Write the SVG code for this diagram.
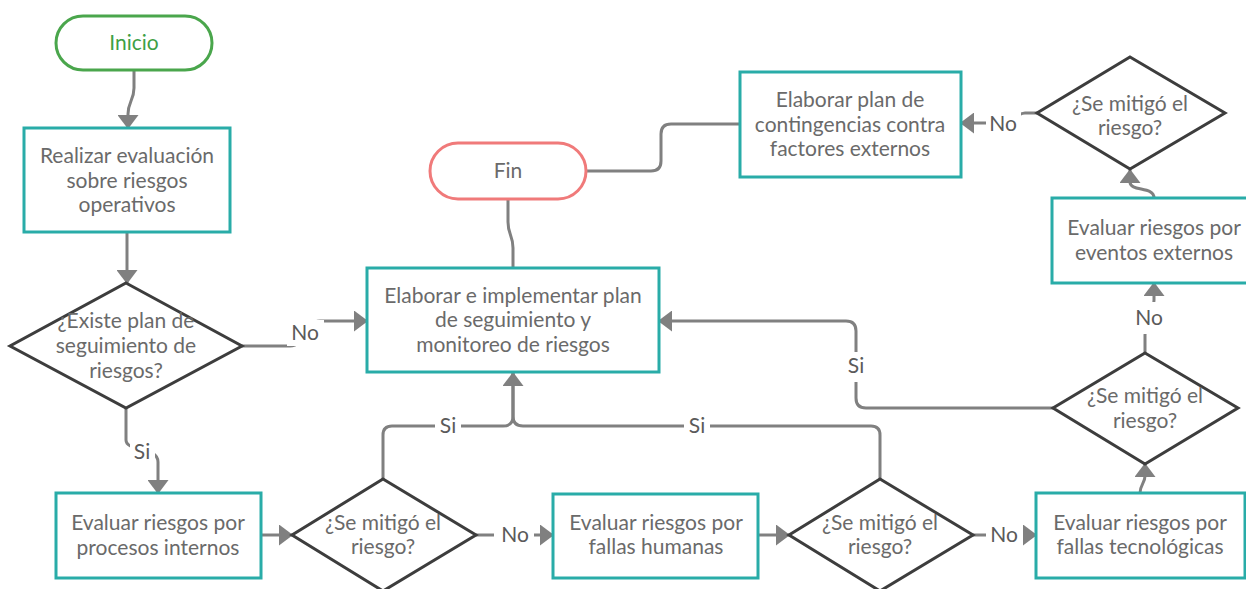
<svg xmlns="http://www.w3.org/2000/svg" width="1246" height="589" viewBox="0 0 1246 589">
<style>
  .box { fill: #ffffff; stroke: #29aca8; stroke-width: 3; }
  .dia { fill: #ffffff; stroke: #3d3d3d; stroke-width: 3; stroke-linejoin: miter; }
  .start { fill: #ffffff; stroke: #4aa64c; stroke-width: 3; }
  .end { fill: #ffffff; stroke: #f07a7a; stroke-width: 3; }
  .t { font-family: Lato, "Liberation Sans", sans-serif; font-size: 21px; fill: #6a6a6a; text-anchor: middle; }
  .tg { fill: #3e9f45; }
  .conn path { fill: none; stroke: #808080; stroke-width: 3; }
  .lbl { font-family: Lato, "Liberation Sans", sans-serif; font-size: 21px; fill: #5a5a5a; text-anchor: middle; }
  .lblbg { fill: #ffffff; }
</style>
<defs>
  <marker id="arr" viewBox="0 0 14 21" refX="13" refY="10.5" markerWidth="14" markerHeight="21" markerUnits="userSpaceOnUse" orient="auto">
    <path d="M0,0 L14,10.5 L0,21 z" fill="#808080"/>
  </marker>
</defs>
<rect width="1246" height="589" fill="#ffffff"/>

<g id="connectors" class="conn">
  <path d="M134,70 V88 C134,100 128,102 128,114 V128" marker-end="url(#arr)"/>
  <path d="M127,232 V283" marker-end="url(#arr)"/>
  <path d="M242,346 H290 C305,346 305,321 320,321 H367" marker-end="url(#arr)"/>
  <path d="M126,408 V440 C126,452 158,446 158,462 V493" marker-end="url(#arr)"/>
  <path d="M261,535 H292" marker-end="url(#arr)"/>
  <path d="M383,479 V435 Q383,426 392,426 H503 Q513,426 513,416 V373" marker-end="url(#arr)"/>
  <path d="M880,479 V435 Q880,426 871,426 H523 Q513,426 513,416 V373"/>
  <path d="M476,535 H553" marker-end="url(#arr)"/>
  <path d="M758,535 H789" marker-end="url(#arr)"/>
  <path d="M973,535 H1036" marker-end="url(#arr)"/>
  <path d="M1140,493 C1140,485 1145,483 1145,476 V464" marker-end="url(#arr)"/>
  <path d="M1053,408 H866 Q856,408 856,398 V331 Q856,321 846,321 H659" marker-end="url(#arr)"/>
  <path d="M1145,353 V335 C1145,325 1154,312 1154,300 V283" marker-end="url(#arr)"/>
  <path d="M1154,198 C1154,186 1130,192 1130,182 V170" marker-end="url(#arr)"/>
  <path d="M1037,113 H1025 C1015,113 1015,123 1005,123 H961" marker-end="url(#arr)"/>
  <path d="M740,124 H671 Q661,124 661,134 V161 Q661,171 651,171 H586"/>
  <path d="M513,268 V248 C513,235 508,235 508,222 V199"/>
</g>

<g id="labels">
  <rect class="lblbg" x="287" y="320" width="37" height="26"/>
  <text class="lbl" x="305" y="340">No</text>
  <rect class="lblbg" x="130" y="440" width="25" height="26"/>
  <text class="lbl" x="142" y="459">Si</text>
  <rect class="lblbg" x="435" y="413" width="26" height="26"/>
  <text class="lbl" x="448" y="433">Si</text>
  <rect class="lblbg" x="684" y="413" width="26" height="26"/>
  <text class="lbl" x="697" y="433">Si</text>
  <rect class="lblbg" x="494" y="522" width="40" height="26"/>
  <text class="lbl" x="515" y="542">No</text>
  <rect class="lblbg" x="986" y="522" width="37" height="26"/>
  <text class="lbl" x="1004" y="542">No</text>
  <rect class="lblbg" x="844" y="352" width="24" height="30"/>
  <text class="lbl" x="856" y="373">Si</text>
  <rect class="lblbg" x="1131" y="302" width="38" height="32"/>
  <text class="lbl" x="1149" y="325">No</text>
  <rect class="lblbg" x="986" y="110" width="35" height="26"/>
  <text class="lbl" x="1003" y="131">No</text>
</g>

<g id="inicio">
  <rect class="start" x="56" y="16" width="156" height="54" rx="27"/>
  <text class="t tg" x="134" y="50">Inicio</text>
</g>
<g id="evaluacion-operativos">
  <rect class="box" x="24" y="128" width="206" height="104"/>
  <text class="t" x="127" y="163">Realizar evaluación</text>
  <text class="t" x="127" y="188">sobre riesgos</text>
  <text class="t" x="127" y="212">operativos</text>
</g>
<g id="existe-plan">
  <polygon class="dia" points="126,283 242,346 126,408 10,346"/>
  <text class="t" x="126" y="328">¿Existe plan de</text>
  <text class="t" x="126" y="353">seguimiento de</text>
  <text class="t" x="126" y="378">riesgos?</text>
</g>
<g id="elaborar-seguimiento">
  <rect class="box" x="367" y="268" width="292" height="104"/>
  <text class="t" x="513" y="303">Elaborar e implementar plan</text>
  <text class="t" x="513" y="327">de seguimiento y</text>
  <text class="t" x="513" y="352">monitoreo de riesgos</text>
</g>
<g id="fin">
  <rect class="end" x="430" y="143" width="156" height="56" rx="28"/>
  <text class="t" x="508" y="178">Fin</text>
</g>
<g id="contingencias">
  <rect class="box" x="740" y="72" width="221" height="105"/>
  <text class="t" x="850" y="107">Elaborar plan de</text>
  <text class="t" x="850" y="132">contingencias contra</text>
  <text class="t" x="850" y="156">factores externos</text>
</g>
<g id="mitigo-externos">
  <polygon class="dia" points="1130,57 1225,113 1130,169 1037,113"/>
  <text class="t" x="1130" y="111">¿Se mitigó el</text>
  <text class="t" x="1130" y="135">riesgo?</text>
</g>
<g id="eventos-externos">
  <rect class="box" x="1052" y="198" width="210" height="85"/>
  <text class="t" x="1154" y="235">Evaluar riesgos por</text>
  <text class="t" x="1154" y="260">eventos externos</text>
</g>
<g id="mitigo-tecnologicas">
  <polygon class="dia" points="1145,353 1238,408 1145,464 1053,408"/>
  <text class="t" x="1145" y="403">¿Se mitigó el</text>
  <text class="t" x="1145" y="428">riesgo?</text>
</g>
<g id="procesos-internos">
  <rect class="box" x="56" y="493" width="205" height="85"/>
  <text class="t" x="158" y="530">Evaluar riesgos por</text>
  <text class="t" x="158" y="555">procesos internos</text>
</g>
<g id="mitigo-procesos">
  <polygon class="dia" points="383,479 476,535 383,591 292,535"/>
  <text class="t" x="383" y="530">¿Se mitigó el</text>
  <text class="t" x="383" y="554">riesgo?</text>
</g>
<g id="fallas-humanas">
  <rect class="box" x="553" y="494" width="205" height="84"/>
  <text class="t" x="656" y="530">Evaluar riesgos por</text>
  <text class="t" x="656" y="554">fallas humanas</text>
</g>
<g id="mitigo-humanas">
  <polygon class="dia" points="880,479 973,535 880,591 789,535"/>
  <text class="t" x="880" y="530">¿Se mitigó el</text>
  <text class="t" x="880" y="554">riesgo?</text>
</g>
<g id="fallas-tecnologicas">
  <rect class="box" x="1036" y="493" width="209" height="85"/>
  <text class="t" x="1140" y="530">Evaluar riesgos por</text>
  <text class="t" x="1140" y="554">fallas tecnológicas</text>
</g>
</svg>
